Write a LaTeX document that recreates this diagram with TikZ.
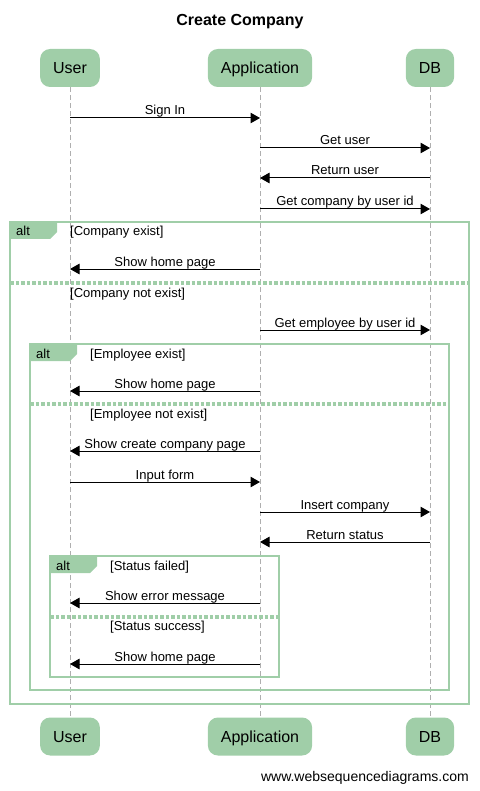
\documentclass[tikz,border=0pt]{standalone}
\usepackage{fontspec}
\setmainfont{Liberation Sans}
\usetikzlibrary{shapes,arrows.meta,positioning}
\definecolor{wsdgreen}{RGB}{160,206,168}
\definecolor{lifegrey}{RGB}{175,175,175}

\begin{document}
\begin{tikzpicture}[x=1pt, y=-1pt,
    actor/.style={fill=wsdgreen, rounded corners=10pt, minimum height=38pt, inner xsep=13pt,
                  text height=11.5pt, text depth=0pt, font=\fontsize{16}{18}\selectfont},
    lifeline/.style={draw=lifegrey, line width=0.8pt, dash pattern=on 5pt off 3pt},
    msg/.style={line width=1pt, -{Triangle[length=9.5pt, width=10.5pt]}},
    lbl/.style={midway, anchor=base, yshift=3pt, inner sep=0pt, font=\fontsize{13}{15}\selectfont},
    frame/.style={draw=wsdgreen, line width=2pt},
    sep/.style={draw=wsdgreen, line width=3.2pt, dash pattern=on 3.5pt off 2pt},
    tab/.style={fill=wsdgreen},
    cond/.style={anchor=base west, inner sep=0pt, font=\fontsize{13}{15}\selectfont}]

    \useasboundingbox (0,0) rectangle (479,791);

    % Title
    \node[font=\bfseries\fontsize{16}{18}\selectfont, anchor=base] (title) at (240,26) {Create Company};

    % Participants (top and bottom)
    \node[actor] (user) at (70,68) {User};
    \node[actor] (app) at (260,68) {Application};
    \node[actor] (db) at (430,68) {DB};
    \node[actor] (userb) at (70,736.5) {User};
    \node[actor] (appb) at (260,736.5) {Application};
    \node[actor] (dbb) at (430,736.5) {DB};

    % Lifelines
    \draw[lifeline] (user) -- (userb);
    \draw[lifeline] (app) -- (appb);
    \draw[lifeline] (db) -- (dbb);

    % Sign in and lookup
    \draw[msg] (user |- 0,118) -- node[lbl] (m1) {Sign In} (app |- 0,118);
    \draw[msg] (app |- 0,148) -- node[lbl] (m2) {Get user} (db |- 0,148);
    \draw[msg] (db |- 0,178) -- node[lbl] (m3) {Return user} (app |- 0,178);
    \draw[msg] (app |- 0,209) -- node[lbl] (m4) {Get company by user id} (db |- 0,209);

    % Outer alt: company
    \draw[frame] (10,222) rectangle (469,704);
    \fill[tab] (10,222) -- (57,222) -- (57,232) -- (50,239) -- (10,239) -- cycle;
    \node[cond] (alt1) at (16,236) {alt};
    \node[cond] (c1) at (70,236) {[Company exist]};
    \draw[msg] (app |- 0,269) -- node[lbl] (m5) {Show home page} (user |- 0,269);
    \draw[sep] (10,283) -- (469,283);
    \node[cond] (c2) at (70,297.5) {[Company not exist]};
    \draw[msg] (app |- 0,330) -- node[lbl] (m6) {Get employee by user id} (db |- 0,330);

    % Middle alt: employee
    \draw[frame] (30,344) rectangle (449,690);
    \fill[tab] (30,344) -- (77,344) -- (77,354) -- (70,361) -- (30,361) -- cycle;
    \node[cond] (alt2) at (36,358) {alt};
    \node[cond] (c3) at (90,358) {[Employee exist]};
    \draw[msg] (app |- 0,391) -- node[lbl] (m7) {Show home page} (user |- 0,391);
    \draw[sep] (30,404) -- (449,404);
    \node[cond] (c4) at (90,418) {[Employee not exist]};
    \draw[msg] (app |- 0,451) -- node[lbl] (m8) {Show create company page} (user |- 0,451);
    \draw[msg] (user |- 0,482) -- node[lbl] (m9) {Input form} (app |- 0,482);
    \draw[msg] (app |- 0,512) -- node[lbl] (m10) {Insert company} (db |- 0,512);
    \draw[msg] (db |- 0,542) -- node[lbl] (m11) {Return status} (app |- 0,542);

    % Inner alt: status
    \draw[frame] (50,556) rectangle (279,677);
    \fill[tab] (50,556) -- (97,556) -- (97,566) -- (90,573) -- (50,573) -- cycle;
    \node[cond] (alt3) at (56,570) {alt};
    \node[cond] (c5) at (110,570) {[Status failed]};
    \draw[msg] (app |- 0,603) -- node[lbl] (m12) {Show error message} (user |- 0,603);
    \draw[sep] (50,617) -- (279,617);
    \node[cond] (c6) at (110,630.5) {[Status success]};
    \draw[msg] (app |- 0,664) -- node[lbl] (m13) {Show home page} (user |- 0,664);

    % Watermark
    \node[anchor=base east, inner sep=0pt, font=\fontsize{14}{16}\selectfont] (wm) at (469,781) {www.websequencediagrams.com};
\end{tikzpicture}
\end{document}
